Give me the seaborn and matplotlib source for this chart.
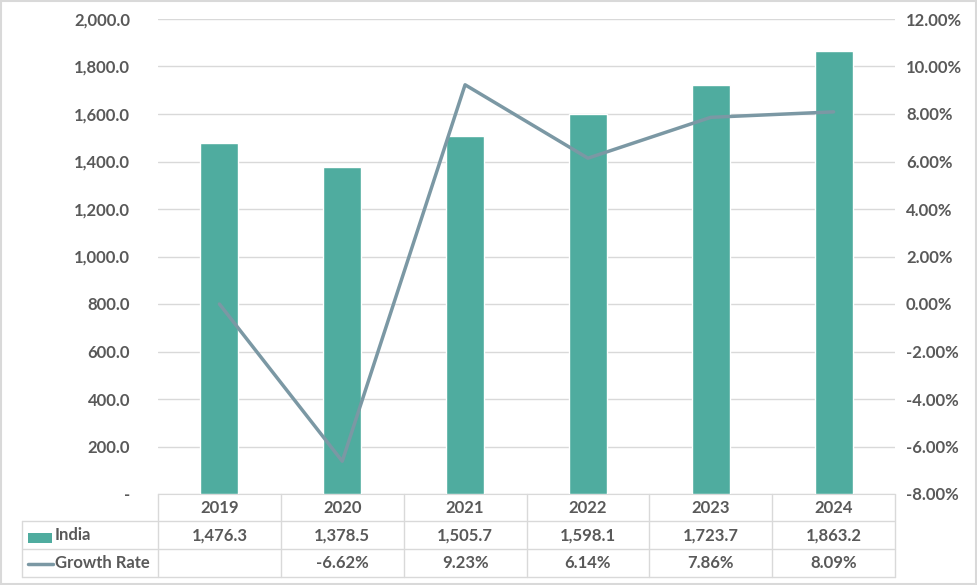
import matplotlib
matplotlib.use("Agg")
import matplotlib.pyplot as plt
from matplotlib.ticker import FuncFormatter, MultipleLocator
from matplotlib.lines import Line2D
from matplotlib.patches import Rectangle
import seaborn as sns
import pandas as pd
import numpy as np

years = ['2019', '2020', '2021', '2022', '2023', '2024']
india = [1476.3, 1378.5, 1505.7, 1598.1, 1723.7, 1863.2]
growth = [None, -6.62, 9.23, 6.14, 7.86, 8.09]

bar_color = '#4FAC9F'
line_color = '#7B98A4'
text_color = '#595959'
grid_color = '#D9D9D9'

df = pd.DataFrame({'year': years, 'India': india, 'Growth': growth})
df['pos'] = np.arange(len(years))
# Excel draws the blank first cell as zero
df['Growth_plot'] = df['Growth'].fillna(0) / 100

sns.set_style('white')
plt.rcParams['font.family'] = ['Lato', 'DejaVu Sans']
plt.rcParams['font.weight'] = 'bold'

fig = plt.figure(figsize=(9.77, 5.85), dpi=100)
W, H = 977, 585
def fx(px):
    return px / W
def fy(py):
    return 1 - py / H

ax = fig.add_axes([fx(158), fy(494), fx(895) - fx(158), fy(19) - fy(494)])
sns.barplot(x='pos', y='India', data=df, color=bar_color, width=0.31,
            saturation=1, ax=ax, native_scale=True, zorder=3)
ax.set_xlim(-0.5, len(years) - 0.5)
ax.set_ylim(0, 2000)
ax.yaxis.set_major_locator(MultipleLocator(200))
ax.yaxis.set_major_formatter(FuncFormatter(lambda v, p: '-' if v == 0 else f'{v:,.1f}'))
ax.grid(axis='y', color=grid_color, linewidth=1, zorder=0)
ax.set_axisbelow(True)
ax.set_xlabel('')
ax.set_ylabel('')
ax.set_xticks([])
for s in ['top', 'right', 'left']:
    ax.spines[s].set_visible(False)
ax.spines['bottom'].set_color(grid_color)
ax.tick_params(axis='y', length=0, pad=20, labelsize=12, labelcolor=text_color)

ax2 = ax.twinx()
sns.lineplot(x='pos', y='Growth_plot', data=df, color=line_color, linewidth=2.5, ax=ax2, zorder=4)
ax2.set_ylim(-0.08, 0.12)
ax2.yaxis.set_major_locator(MultipleLocator(0.02))
ax2.yaxis.set_major_formatter(FuncFormatter(lambda v, p: f'{v*100:.2f}%'))
ax2.set_ylabel('')
ax2.set_xlabel('')
for s in ax2.spines.values():
    s.set_visible(False)
ax2.tick_params(axis='y', length=0, pad=8, labelsize=12, labelcolor=text_color)
for lbl in ax.get_yticklabels() + ax2.get_yticklabels():
    lbl.set_fontweight('bold')

# data table under the plot
row_y = [494, 521, 549, 577]
col_w = (895 - 158) / len(years)
col_x = [158 + i * col_w for i in range(len(years) + 1)]
lw = 1
for y in row_y[1:]:
    fig.add_artist(Line2D([fx(22), fx(895)], [fy(y), fy(y)], color=grid_color, lw=lw))
for x in col_x:
    fig.add_artist(Line2D([fx(x), fx(x)], [fy(494), fy(577)], color=grid_color, lw=lw))
fig.add_artist(Line2D([fx(22), fx(22)], [fy(521), fy(577)], color=grid_color, lw=lw))

def cell_center(i):
    return fx(col_x[i] + col_w / 2)

for i, yr in enumerate(years):
    fig.text(cell_center(i), fy(508), yr, ha='center', va='center',
             fontsize=12, fontweight='bold', color=text_color)
    fig.text(cell_center(i), fy(535.5), f'{india[i]:,.1f}', ha='center', va='center',
             fontsize=12, fontweight='bold', color=text_color)
    if growth[i] is not None:
        fig.text(cell_center(i), fy(563.5), f'{growth[i]:.2f}%', ha='center', va='center',
                 fontsize=12, fontweight='bold', color=text_color)

fig.add_artist(Rectangle((fx(28), fy(543)), fx(52) - fx(28), fy(533) - fy(543),
                         facecolor=bar_color, edgecolor='none'))
fig.text(fx(55), fy(535.5), 'India', ha='left', va='center',
         fontsize=12, fontweight='bold', color=text_color)
fig.add_artist(Line2D([fx(28), fx(53)], [fy(564), fy(564)], color=line_color, lw=2.5))
fig.text(fx(55), fy(563.5), 'Growth Rate', ha='left', va='center',
         fontsize=12, fontweight='bold', color=text_color)

# outer frame
fig.add_artist(Rectangle((0.001, 0.001), 0.998, 0.998, transform=fig.transFigure,
                         fill=False, edgecolor=grid_color, lw=1.5))

fig.savefig('out.png', dpi=100)
